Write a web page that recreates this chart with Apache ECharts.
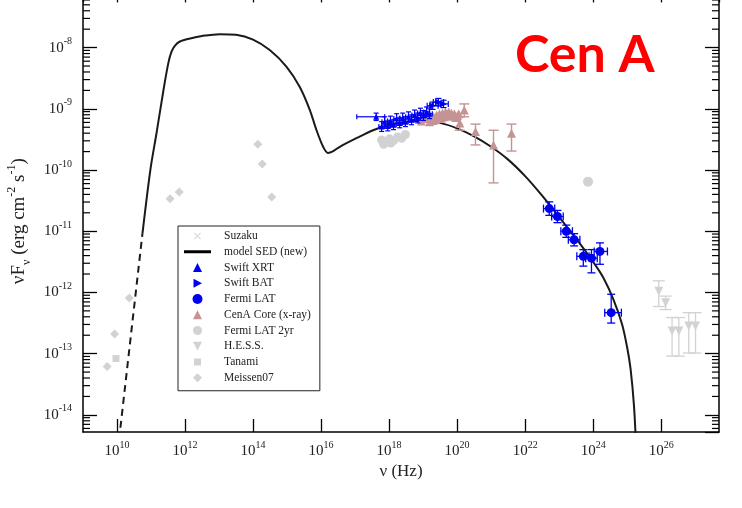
<!DOCTYPE html>
<html><head><meta charset="utf-8">
<script src="https://cdn.jsdelivr.net/npm/echarts@6.0.0/dist/echarts.min.js"></script>
<style>html,body{margin:0;padding:0;background:#fff}#c{width:742px;height:508px}</style>
</head><body><div id="c"></div>
<script>
// All values are base-10 exponents:
// [log10(nu / Hz), log10(nuFnu / erg cm^-2 s^-1)]
const xTickExponents = [10, 12, 14, 16, 18, 20, 22, 24, 26];
const yTickExponents = [-14, -13, -12, -11, -10, -9, -8];

const modelDashed = [[10.02, -14.6], [10.75, -11.03]];
const modelSolid = [
  [10.75, -11.03], [10.98, -10.0], [11.17, -9.37], [11.37, -8.68], [11.51, -8.25], [11.6, -8.07],
  [11.7, -7.97], [11.85, -7.9], [12.15, -7.85], [12.5, -7.81], [13.02, -7.78], [13.5, -7.79],
  [14.0, -7.87], [14.49, -8.04], [14.98, -8.31], [15.37, -8.64], [15.67, -9.02], [15.86, -9.34],
  [16.06, -9.62], [16.2, -9.72], [16.36, -9.69], [16.55, -9.62], [17.04, -9.48], [17.53, -9.35],
  [18.0, -9.26], [18.5, -9.21], [19.0, -9.2], [19.5, -9.23], [20.0, -9.32], [20.5, -9.45],
  [21.0, -9.62], [21.5, -9.83], [22.0, -10.1], [22.5, -10.42], [23.0, -10.77], [23.5, -11.12],
  [24.0, -11.5], [24.3, -11.76], [24.6, -12.12], [24.85, -12.52], [25.0, -12.9], [25.1, -13.25],
  [25.2, -13.85], [25.27, -14.6]
];

// points with error bounds: [x, y, xLow, xHigh, yLow, yHigh]
const swiftXRT = [
  [17.62, -9.13, 17.05, 17.87, -9.19, -9.07],
  [17.78, -9.29, 17.70, 17.86, -9.37, -9.21],
  [17.87, -9.21, 17.79, 17.95, -9.29, -9.13],
  [17.96, -9.28, 17.88, 18.04, -9.36, -9.20],
  [18.04, -9.20, 17.96, 18.12, -9.28, -9.12],
  [18.13, -9.26, 18.05, 18.21, -9.34, -9.18],
  [18.22, -9.16, 18.14, 18.30, -9.24, -9.08],
  [18.31, -9.23, 18.23, 18.39, -9.31, -9.15],
  [18.40, -9.15, 18.32, 18.48, -9.23, -9.07],
  [18.48, -9.21, 18.40, 18.56, -9.29, -9.13],
  [18.57, -9.13, 18.49, 18.65, -9.21, -9.05],
  [18.66, -9.18, 18.58, 18.74, -9.26, -9.10],
  [18.75, -9.10, 18.67, 18.83, -9.18, -9.02],
  [18.84, -9.15, 18.76, 18.92, -9.23, -9.07],
  [18.92, -9.07, 18.84, 19.00, -9.15, -8.99],
  [19.01, -9.11, 18.93, 19.09, -9.19, -9.03],
  [19.10, -9.05, 19.02, 19.18, -9.13, -8.97],
  [19.19, -9.08, 19.11, 19.27, -9.16, -9.00]
];
const swiftBAT = [
  [19.28, -8.95, 19.12, 19.44, -9.01, -8.89],
  [19.45, -8.89, 19.30, 19.60, -8.95, -8.83],
  [19.60, -8.92, 19.46, 19.74, -8.98, -8.86]
];
const fermiLAT = [
  [22.71, -10.63, 22.54, 22.87, -10.74, -10.52],
  [22.95, -10.76, 22.78, 23.12, -10.86, -10.66],
  [23.21, -11.00, 23.05, 23.39, -11.10, -10.90],
  [23.44, -11.14, 23.27, 23.61, -11.24, -11.04],
  [23.71, -11.41, 23.52, 23.88, -11.57, -11.30],
  [23.95, -11.44, 23.78, 24.12, -11.68, -11.30],
  [24.20, -11.33, 24.03, 24.42, -11.54, -11.19],
  [24.53, -12.33, 24.34, 24.83, -12.50, -12.03]
];
const cenaCoreBand = [
  [18.95, -9.20], [19.07, -9.16], [19.19, -9.15], [19.31, -9.13], [19.40, -9.10], [19.48, -9.08],
  [19.57, -9.07], [19.66, -9.05], [19.75, -9.05], [19.83, -9.07], [19.92, -9.08], [20.01, -9.11],
  [19.19, -9.21], [19.37, -9.18], [19.54, -9.15], [19.72, -9.11], [19.88, -9.12],
  [19.28, -9.19], [19.46, -9.16], [19.63, -9.13], [19.80, -9.10], [19.96, -9.14], [20.05, -9.08]
];
const cenaCorePoints = [
  [20.21, -9.02, null, null, -9.13, -8.92],
  [20.08, -9.23, null, null, -9.35, -9.13],
  [20.54, -9.37, null, null, -9.59, -9.25],
  [21.07, -9.59, null, null, -10.21, -9.35],
  [21.60, -9.40, null, null, -9.69, -9.25]
];
const hess = [
  [25.93, -11.98, null, null, -12.23, -11.81],
  [26.13, -12.17, null, null, -12.28, -12.06],
  [26.32, -12.63, null, null, -13.04, -12.41],
  [26.52, -12.63, null, null, -13.04, -12.41],
  [26.81, -12.55, null, null, -12.99, -12.33],
  [27.01, -12.55, null, null, -12.99, -12.33]
];
const fermiLAT2yr = [[23.85, -10.19]];
const suzaku = [
  [17.78, -9.51], [17.90, -9.54], [18.01, -9.49], [18.13, -9.52], [18.25, -9.46],
  [18.37, -9.48], [18.48, -9.42], [17.84, -9.58], [18.05, -9.56]
];
const tanami = [[9.97, -13.08]];
const meissen07 = [
  [9.71, -13.21], [9.93, -12.68], [10.36, -12.09], [11.56, -10.47], [11.83, -10.36],
  [14.14, -9.58], [14.27, -9.90], [14.55, -10.44]
];

const X_MIN = 9, X_MAX = 27.7, Y_MIN = -14.28, Y_MAX = -7;
const BLUE = '#0000f0', BROWN = '#c49494', GRAY = '#d2d2d2';
const SERIF = "'Liberation Serif','DejaVu Serif',serif";

// symbols for data marks
const rightTri = 'path://M0,0L10,5L0,10Z';
const downTri = 'path://M0,0L10,0L5,10Z';
// legend icons: drawn in a 27x10 box (the two leading moveTo's fix the box)
const BOX = 'path://M0,0M27,10';
const lgCross = BOX + 'M10.7,1.5L13.5,4.3L16.3,1.5L17,2.2L14.2,5L17,7.8L16.3,8.5L13.5,5.7L10.7,8.5L10,7.8L12.8,5L10,2.2Z';
const lgLine = BOX + 'M0,3.5L27,3.5L27,6.5L0,6.5Z';
const lgUp = BOX + 'M9,9.5L13.5,0.5L18,9.5Z';
const lgRight = BOX + 'M9.5,0.5L18,5L9.5,9.5Z';
const lgCircle = BOX + 'M8.5,5A5,5,0,1,1,18.5,5A5,5,0,1,1,8.5,5Z';
const lgCircleS = BOX + 'M9,5A4.5,4.5,0,1,1,18,5A4.5,4.5,0,1,1,9,5Z';
const lgDown = BOX + 'M9,0.5L18,0.5L13.5,9.5Z';
const lgRect = BOX + 'M10,1.5L17,1.5L17,8.5L10,8.5Z';
const lgDiamond = BOX + 'M13.5,0.5L18,5L13.5,9.5L9,5Z';

// log minor tick positions (2..9 x 10^n)
const minorTicks = [];
for (let n = -15; n <= -7; n++) for (let k = 2; k <= 9; k++) {
  const v = n + Math.log10(k);
  if (v > Y_MIN && v < Y_MAX) minorTicks.push([X_MIN, v]);
}

function errRender(color, cap, lw) {
  return function (params, api) {
    const x = api.value(0), y = api.value(1);
    const xl = api.value(2), xh = api.value(3), yl = api.value(4), yh = api.value(5);
    const st = { stroke: color, lineWidth: lw, fill: null };
    const ch = [];
    if (isFinite(xl) && isFinite(xh)) {
      const a = api.coord([xl, y]), b = api.coord([xh, y]);
      ch.push({ type: 'line', shape: { x1: a[0], y1: a[1], x2: b[0], y2: b[1] }, style: st });
      ch.push({ type: 'line', shape: { x1: a[0], y1: a[1] - cap, x2: a[0], y2: a[1] + cap }, style: st });
      ch.push({ type: 'line', shape: { x1: b[0], y1: b[1] - cap, x2: b[0], y2: b[1] + cap }, style: st });
    }
    if (isFinite(yl) && isFinite(yh)) {
      const a = api.coord([x, yl]), b = api.coord([x, yh]);
      ch.push({ type: 'line', shape: { x1: a[0], y1: a[1], x2: b[0], y2: b[1] }, style: st });
      ch.push({ type: 'line', shape: { x1: a[0] - cap, y1: a[1], x2: a[0] + cap, y2: a[1] }, style: st });
      ch.push({ type: 'line', shape: { x1: b[0] - cap, y1: b[1], x2: b[0] + cap, y2: b[1] }, style: st });
    }
    return { type: 'group', children: ch };
  };
}
function errSeries(name, data, color, cap, lw, z) {
  return {
    name: name, type: 'custom', data: data, z: z, silent: true,
    dimensions: ['x', 'y', 'xl', 'xh', 'yl', 'yh'], encode: { x: 0, y: 1 },
    renderItem: errRender(color, cap, lw)
  };
}
function scatter(name, data, symbol, size, color, z) {
  return {
    name: name, type: 'scatter', data: data.map(d => [d[0], d[1]]), symbol: symbol,
    symbolSize: size, symbolKeepAspect: true, itemStyle: { color: color, opacity: 1 }, z: z, silent: true
  };
}

const richLabel = {
  b: { fontSize: 15, fontFamily: SERIF, color: '#222', lineHeight: 22, verticalAlign: 'middle' },
  e: { fontSize: 10, fontFamily: SERIF, color: '#222', lineHeight: 10, verticalAlign: 'top' }
};
function powLabel(list) {
  return function (v) {
    const r = Math.round(v);
    if (Math.abs(v - r) > 1e-6 || list.indexOf(r) < 0) return '';
    return '{b|10}{e|' + r + '}';
  };
}
const baseAxis = {
  type: 'value',
  axisLine: { show: true, onZero: false, lineStyle: { color: '#000', width: 1.5 } },
  splitLine: { show: false }
};

const option = {
  animation: false,
  backgroundColor: '#fff',
  title: {
    text: 'Cen A', left: 515, top: 29, padding: 0,
    textStyle: { color: '#ff0000', fontSize: 52, fontWeight: 'bold',
      fontFamily: "Lato,'Open Sans',sans-serif" }
  },
  grid: { left: 83, right: 23, top: -13.6, bottom: 76, outerBoundsMode: 'none', containLabel: false },
  xAxis: [
    Object.assign({}, baseAxis, {
      min: X_MIN, max: X_MAX, splitNumber: 9, position: 'bottom',
      axisTick: { show: true, inside: true, length: 13, lineStyle: { color: '#000', width: 1.3 } },
      axisLabel: { show: true, margin: 8, showMinLabel: false, showMaxLabel: false,
        formatter: powLabel(xTickExponents), rich: richLabel },
      name: 'ν (Hz)', nameLocation: 'middle', nameGap: 29,
      nameTextStyle: { fontFamily: SERIF, fontSize: 17, color: '#222' }
    }),
    Object.assign({}, baseAxis, {
      min: X_MIN, max: X_MAX, splitNumber: 9, position: 'top',
      axisTick: { show: true, inside: true, length: 16, lineStyle: { color: '#000', width: 1.3 } },
      axisLabel: { show: false }
    })
  ],
  yAxis: [
    Object.assign({}, baseAxis, {
      min: Y_MIN, max: Y_MAX, splitNumber: 7, position: 'left',
      axisTick: { show: true, inside: true, length: 14, lineStyle: { color: '#000', width: 1.3 } },
      axisLabel: { show: true, margin: 11, showMinLabel: false, showMaxLabel: false,
        formatter: powLabel(yTickExponents), rich: richLabel },
      name: '{a|νF}{s|ν}{a| (erg cm}{p|-2}{a| s}{p|-1}{a|)}',
      nameLocation: 'middle', nameRotate: 90, nameGap: 46,
      nameTextStyle: {
        padding: [0, 24, 0, 0],
        rich: {
          a: { fontSize: 19, fontFamily: SERIF, color: '#222', lineHeight: 27, verticalAlign: 'middle' },
          s: { fontSize: 12, fontFamily: SERIF, color: '#222', lineHeight: 12, verticalAlign: 'bottom' },
          p: { fontSize: 12, fontFamily: SERIF, color: '#222', lineHeight: 12, verticalAlign: 'top' }
        }
      }
    }),
    Object.assign({}, baseAxis, {
      min: Y_MIN, max: Y_MAX, splitNumber: 7, position: 'right',
      axisTick: { show: true, inside: true, length: 14, lineStyle: { color: '#000', width: 1.3 } },
      axisLabel: { show: false }
    })
  ],
  legend: {
    orient: 'vertical', left: 178, top: 226,
    padding: [4, 9, 7, 6],
    itemWidth: 27, itemHeight: 10, itemGap: 3.75,
    borderColor: '#222', borderWidth: 1, backgroundColor: '#fff',
    selectedMode: false,
    textStyle: { fontFamily: SERIF, fontSize: 11.5, color: '#222', lineHeight: 10, padding: [0, 0, 0, 8] },
    data: [
      { name: 'Suzaku', icon: lgCross, itemStyle: { color: '#d6d6d6' } },
      { name: 'model SED (new)', icon: lgLine, itemStyle: { color: '#000' } },
      { name: 'Swift XRT', icon: lgUp },
      { name: 'Swift BAT', icon: lgRight },
      { name: 'Fermi LAT', icon: lgCircle },
      { name: 'CenA Core (x-ray)', icon: lgUp },
      { name: 'Fermi LAT 2yr', icon: lgCircleS },
      { name: 'H.E.S.S.', icon: lgDown },
      { name: 'Tanami', icon: lgRect },
      { name: 'Meissen07', icon: lgDiamond }
    ]
  },
  series: [
    {
      name: 'minor ticks', type: 'custom', data: minorTicks, silent: true, z: 1,
      encode: { x: 0, y: 1 },
      renderItem: function (params, api) {
        const cs = params.coordSys;
        const yy = api.coord([X_MIN, api.value(1)])[1];
        const st = { stroke: '#000', lineWidth: 1.2 };
        return { type: 'group', children: [
          { type: 'line', shape: { x1: cs.x, y1: yy, x2: cs.x + 7, y2: yy }, style: st },
          { type: 'line', shape: { x1: cs.x + cs.width, y1: yy, x2: cs.x + cs.width - 7, y2: yy }, style: st }
        ] };
      }
    },
    scatter('Suzaku', suzaku, 'circle', 9, GRAY, 2),
    scatter('Meissen07', meissen07, 'diamond', 9, GRAY, 2),
    scatter('Tanami', tanami, 'rect', 7, GRAY, 2),
    scatter('Fermi LAT 2yr', fermiLAT2yr, 'circle', 10, GRAY, 2),
    errSeries('hess err', hess, GRAY, 6, 1.3, 2),
    scatter('H.E.S.S.', hess, downTri, 9, GRAY, 2),
    {
      name: 'model SED (new)', type: 'line', data: modelSolid, symbol: 'none', z: 4,
      smooth: 0.3, clip: true,
      lineStyle: { color: '#1a1a1a', width: 2 }, itemStyle: { color: '#000' }
    },
    {
      name: 'model SED dashed', type: 'line', data: modelDashed, symbol: 'none', z: 4, clip: true,
      lineStyle: { color: '#1a1a1a', width: 2, type: [7, 5] }
    },
    scatter('CenA Core (x-ray)', cenaCoreBand.concat(cenaCorePoints), 'triangle', 9, BROWN, 5),
    errSeries('core err', cenaCorePoints, BROWN, 5, 1.4, 5),
    errSeries('xrt err', swiftXRT, BLUE, 2.5, 1.2, 6),
    scatter('Swift XRT', swiftXRT, 'triangle', 6, BLUE, 6),
    errSeries('bat err', swiftBAT, BLUE, 3, 1.2, 6),
    scatter('Swift BAT', swiftBAT, rightTri, 7, BLUE, 6),
    errSeries('lat err', fermiLAT, BLUE, 4, 1.3, 6),
    scatter('Fermi LAT', fermiLAT, 'circle', 9, BLUE, 6)
  ]
};
const chart = echarts.init(document.getElementById('c'), null, { renderer: 'canvas' });
chart.setOption(option);
</script>
</body></html>
